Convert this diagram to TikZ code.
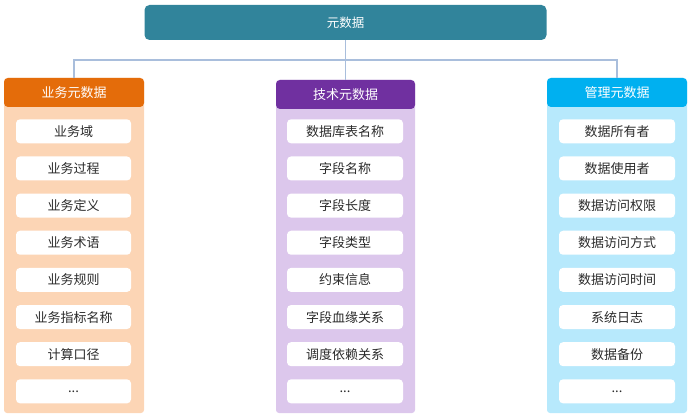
\documentclass[tikz,border=0pt]{standalone}
\usepackage{fontspec}
\newfontfamily\cjk{Noto Sans CJK SC}
\newcommand\mydots{...}
\definecolor{rootC}{HTML}{31849B}
\definecolor{orgH}{HTML}{E46C0A}
\definecolor{orgB}{HTML}{FCD5B5}
\definecolor{purH}{HTML}{7030A0}
\definecolor{purB}{HTML}{DCC7EC}
\definecolor{cyaH}{HTML}{00B0F0}
\definecolor{cyaB}{HTML}{B7E9FC}
\definecolor{lineC}{HTML}{A9BEDC}
\definecolor{txtC}{HTML}{2B2B2B}
\tikzset{
  rootbox/.style={fill=rootC, rounded corners=5pt, minimum width=402pt, minimum height=35pt, text=white, font=\cjk\fontsize{12.5}{15}\selectfont, inner sep=0pt},
  headbox/.style={rounded corners=4pt, minimum width=140pt, minimum height=29pt, text=white, font=\cjk\fontsize{13}{15}\selectfont, inner sep=0pt},
  itembox/.style={fill=white, rounded corners=4pt, minimum width=116pt, minimum height=24pt, text=txtC, font=\cjk\fontsize{13}{15}\selectfont, inner sep=0pt},
  conn/.style={draw=lineC, line width=1.3pt}
}
\begin{document}
\begin{tikzpicture}[x=1pt,y=-1pt]
\useasboundingbox (0,0) rectangle (692,419);
% column bodies
\fill[orgB, rounded corners=3pt] (4,78) rectangle (144,413);
\fill[purB, rounded corners=3pt] (276,80) rectangle (415,413);
\fill[cyaB, rounded corners=3pt] (547,78) rectangle (687,413);
% root and headers
\node[rootbox] (root) at (345.5,22.5) {元数据};
\node[headbox, fill=orgH] (h1) at (74,92.5) {业务元数据};
\node[headbox, fill=purH, minimum width=139pt] (h2) at (345.5,94.5) {技术元数据};
\node[headbox, fill=cyaH] (h3) at (617,92.5) {管理元数据};
% connectors
\coordinate (hl) at (345.5,60);
\draw[conn] (root.south) -- (h2.north);
\draw[conn] (h1.north) |- (hl) -| (h3.north);
% items
\foreach \t [count=\i] in {业务域,业务过程,业务定义,业务术语,业务规则,业务指标名称,计算口径,\mydots}
  \node[itembox, minimum width=115pt] (a\i) at (73.5,{131.3+(\i-1)*37.15}) {\t};
\foreach \t [count=\i] in {数据库表名称,字段名称,字段长度,字段类型,约束信息,字段血缘关系,调度依赖关系,\mydots}
  \node[itembox] (b\i) at (345,{131.3+(\i-1)*37.15}) {\t};
\foreach \t [count=\i] in {数据所有者,数据使用者,数据访问权限,数据访问方式,数据访问时间,系统日志,数据备份,\mydots}
  \node[itembox] (c\i) at (617,{131.3+(\i-1)*37.15}) {\t};
\end{tikzpicture}
\end{document}
